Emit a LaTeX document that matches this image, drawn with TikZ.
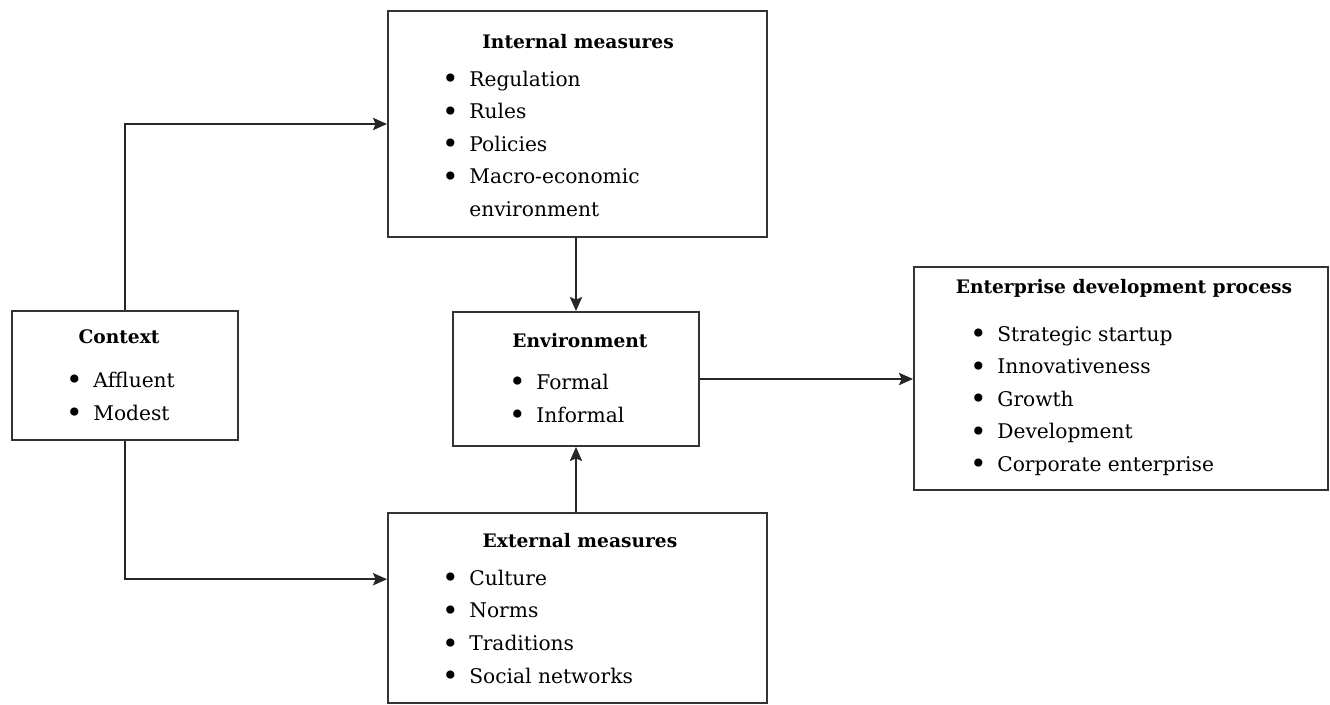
\documentclass[tikz,border=0pt]{standalone}
\usepackage{fontspec}
\setmainfont{DejaVu Serif}
\usetikzlibrary{arrows.meta,positioning,fit,calc}
\newcommand{\bul}{\makebox[0pt][r]{\raisebox{-1.6pt}{\fontsize{16}{16}\selectfont\textbullet}\hspace{6pt}}}

\begin{document}
\begin{tikzpicture}[x=0.02cm, y=-0.02cm, >={Stealth[length=8pt,width=7pt,inset=1.5pt]},
  box/.style={draw=black!80, line width=1.1pt, inner sep=0pt},
  title/.style={font=\fontsize{10.6}{13}\selectfont\bfseries, anchor=base, inner sep=0pt},
  item/.style={font=\fontsize{11.5}{14}\selectfont, anchor=base west, inner sep=0pt},
  arr/.style={->, line width=1.1pt, draw=black!85}]
\useasboundingbox (0,0) rectangle (1330,704);
\node[box, fit={(388,11) (767,237)}] (int) {};
\node[box, fit={(12,311) (238,440)}] (ctx) {};
\node[box, fit={(453,312) (699,446)}] (env) {};
\node[box, fit={(914,267) (1328,490)}] (ent) {};
\node[box, fit={(388,513) (767,703)}] (ext) {};
\node[title] (int-t) at (578,48) {Internal measures};
\foreach \t [count=\i] in {Regulation,Rules,Policies,Macro-economic}
  \node[item] (int-\i) at (469,{86+32.5*(\i-1)}) {\bul\t};
\node[item] (int-5) at (469,216) {environment};
\node[title] (ctx-t) at (119,343) {Context};
\foreach \t [count=\i] in {Affluent,Modest}
  \node[item] (ctx-\i) at (93,{387+33*(\i-1)}) {\bul\t};
\node[title] (env-t) at (580,347) {Environment};
\foreach \t [count=\i] in {Formal,Informal}
  \node[item] (env-\i) at (536,{389+33*(\i-1)}) {\bul\t};
\node[title] (ent-t) at (1124,293) {Enterprise development process};
\foreach \t [count=\i] in {Strategic startup,Innovativeness,Growth,Development,Corporate enterprise}
  \node[item] (ent-\i) at (997,{341+32.5*(\i-1)}) {\bul\t};
\node[title] (ext-t) at (580,547) {External measures};
\foreach \t [count=\i] in {Culture,Norms,Traditions,Social networks}
  \node[item] (ext-\i) at (469,{585+32.7*(\i-1)}) {\bul\t};
\draw[arr] (ctx.north) |- (int.west);
\draw[arr] (ctx.south) |- ($(ext.north west)!0.35!(ext.south west)$);
\draw[arr] (int.south -| env.north) -- (env.north);
\draw[arr] (ext.north -| env.south) -- (env.south);
\draw[arr] (env.east) -- (env.east -| ent.west);
\end{tikzpicture}
\end{document}
